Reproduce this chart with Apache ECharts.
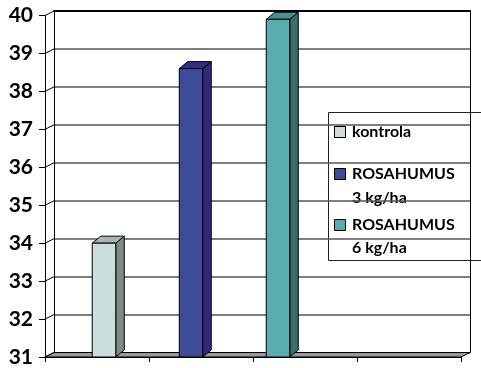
<!DOCTYPE html>
<html><head><meta charset="utf-8">
<script src="https://cdn.jsdelivr.net/npm/echarts@6/dist/echarts.min.js"></script>
<style>html,body{margin:0;padding:0;background:#fff}#c{width:481px;height:368px}</style>
</head><body><div id="c"></div>
<script>
// ---- data ----
var seriesNames = ['kontrola', 'ROSAHUMUS 3 kg/ha', 'ROSAHUMUS 6 kg/ha'];
var legendLines = [['kontrola'], ['ROSAHUMUS', '3 kg/ha'], ['ROSAHUMUS', '6 kg/ha']];
var values = [34.0, 38.6, 39.9];
var yTicks = [31, 32, 33, 34, 35, 36, 37, 38, 39, 40];
var frontCats = ['', '', '', ''];

// ---- styles ----
var frontColors = ['#CBDDDD', '#3D4B99', '#5AADAF'];
var sideColors  = ['#7E8B8B', '#33297A', '#3D6C6C'];
var topColors   = ['#A7B6B6', '#2F3085', '#4A8E8E'];

var FONT = 'Lato';
var F = {l: 45, r: 461, t: 15.5, b: 357};   // front plane
var WDX = 9, WDY = -4.5;                     // wall depth
var BDX = 8.5, BDY = -7;                     // bar depth
var BARW = 23.5;

var chart = echarts.init(document.getElementById('c'), null, {renderer: 'canvas'});

var ymin = yTicks[0], ymax = yTicks[yTicks.length - 1];

function barRender(si) {
  return function (params, api) {
    var top = api.coord([api.value(0), api.value(1)]);
    var base = api.coord([api.value(0), ymin]);
    var l = top[0] - BARW / 2, r = l + BARW;
    var st = {stroke: '#000', lineWidth: 1};
    return {
      type: 'group',
      children: [
        {type: 'polygon', shape: {points: [[r, top[1]], [r + BDX, top[1] + BDY], [r + BDX, base[1] + BDY], [r, base[1]]]},
         style: Object.assign({fill: sideColors[si]}, st)},
        {type: 'polygon', shape: {points: [[l, top[1]], [l + BDX, top[1] + BDY], [r + BDX, top[1] + BDY], [r, top[1]]]},
         style: Object.assign({fill: topColors[si]}, st)},
        {type: 'rect', shape: {x: l, y: top[1], width: BARW, height: base[1] - top[1]},
         style: Object.assign({fill: frontColors[si]}, st)}
      ]
    };
  };
}

var series = [];
// floor + wall diagonals, drawn in the front grid
series.push({
  type: 'custom', xAxisIndex: 0, yAxisIndex: 0, z: 1, silent: true,
  data: yTicks.map(function (v) { return [0, v]; }),
  renderItem: function (params, api) {
    var cs = params.coordSys;
    var p = api.coord([0, api.value(1)]);
    var children = [{type: 'line', shape: {x1: cs.x, y1: p[1], x2: cs.x + WDX, y2: p[1] + WDY}, style: {stroke: '#000', lineWidth: 1}}];
    if (api.value(1) === ymin) {
      children.unshift({type: 'polygon', shape: {points: [[cs.x, p[1]], [cs.x + cs.width, p[1]], [cs.x + cs.width + WDX, p[1] + WDY], [cs.x + WDX, p[1] + WDY]]},
        style: {fill: '#9A9A9A', stroke: '#000', lineWidth: 1}});
    }
    return {type: 'group', children: children};
  }
});
seriesNames.forEach(function (n, i) {
  series.push({
    type: 'custom', name: n, xAxisIndex: 2, yAxisIndex: 3, z: 5,
    itemStyle: {color: frontColors[i]},
    data: [[seriesNames[i], values[i]]],
    renderItem: barRender(i)
  });
});

// legend as real text
var lg = {x: 328.5, y: 112.5, w: 170, h: 148};
var legendChildren = [{type: 'rect', shape: {x: lg.x, y: lg.y, width: lg.w, height: lg.h},
  style: {fill: '#fff', stroke: '#222', lineWidth: 1}}];
var squareTops = [126.5, 168.5, 219.5];
var lineCenters = [[132], [174, 198], [225, 248]];
legendLines.forEach(function (lines, i) {
  legendChildren.push({type: 'rect', shape: {x: 334.5, y: squareTops[i], width: 11, height: 11},
    style: {fill: frontColors[i], stroke: '#000', lineWidth: 1}});
  lines.forEach(function (t, k) {
    legendChildren.push({type: 'text', style: {text: t, x: 352, y: lineCenters[i][k],
      fill: '#000', font: 'bold 16px ' + FONT, verticalAlign: 'middle'}});
  });
});

chart.setOption({
  animation: false,
  backgroundColor: '#fff',
  grid: [
    {left: F.l, top: F.t, width: F.r - F.l, height: F.b - F.t},
    {left: F.l + WDX, top: F.t + WDY, width: F.r - F.l, height: F.b - F.t},
    {left: 60.5, top: F.t, width: 261, height: F.b - F.t}
  ],
  xAxis: [
    {gridIndex: 0, type: 'category', data: frontCats, boundaryGap: true,
     axisLine: {show: true, lineStyle: {color: '#000'}},
     axisTick: {show: true, length: 5, lineStyle: {color: '#000'}},
     axisLabel: {show: false}},
    {gridIndex: 1, type: 'category', data: frontCats, position: 'top',
     axisLine: {show: true, lineStyle: {color: '#000', width: 2}},
     axisTick: {show: false}, axisLabel: {show: false}},
    {gridIndex: 2, type: 'category', data: seriesNames, show: false}
  ],
  yAxis: [
    {gridIndex: 0, type: 'value', min: ymin, max: ymax, interval: 1,
     axisLine: {show: true, lineStyle: {color: '#000'}},
     axisTick: {show: true, length: 6, lineStyle: {color: '#000'}},
     axisLabel: {show: true, margin: 12, color: '#000', fontFamily: FONT, fontWeight: 'bold', fontSize: 21},
     splitLine: {show: false}},
    {gridIndex: 1, type: 'value', min: ymin, max: ymax, interval: 1,
     axisLine: {show: true, lineStyle: {color: '#000'}},
     axisTick: {show: false}, axisLabel: {show: false},
     splitLine: {show: true, lineStyle: {color: '#555', width: 1.5}}},
    {gridIndex: 1, type: 'value', min: ymin, max: ymax, interval: 1, position: 'right',
     axisLine: {show: true, lineStyle: {color: '#000'}},
     axisTick: {show: false}, axisLabel: {show: false}, splitLine: {show: false}},
    {gridIndex: 2, type: 'value', min: ymin, max: ymax, show: false, splitLine: {show: false}}
  ],
  series: series,
  graphic: [{type: 'group', z: 100, children: legendChildren}]
});
</script></body></html>
